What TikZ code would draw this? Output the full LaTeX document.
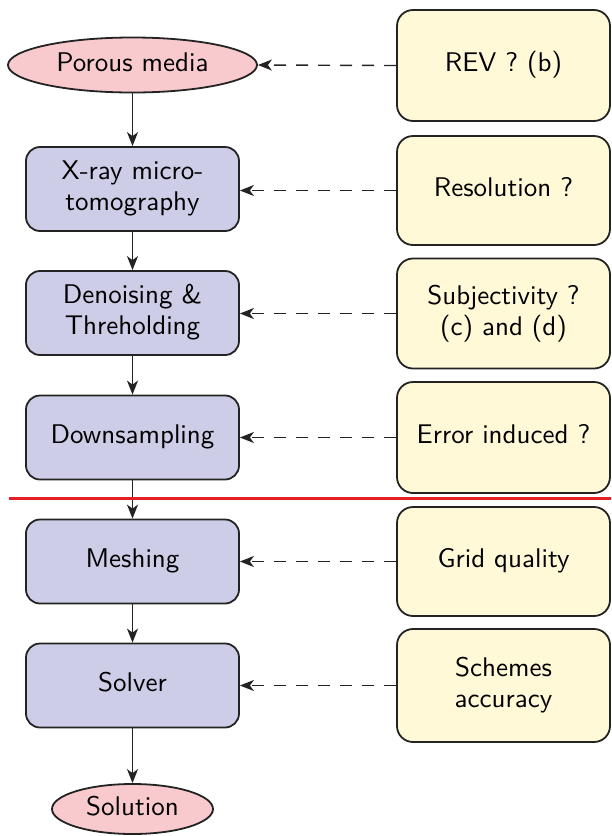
\documentclass[tikz,border=0pt]{standalone}
\usepackage{graphicx}
\usetikzlibrary{shapes.geometric,arrows.meta}
\definecolor{procblue}{RGB}{205,205,232}
\definecolor{issueyellow}{RGB}{255,249,216}
\definecolor{termpink}{RGB}{248,202,206}
\definecolor{sepred}{RGB}{230,30,40}
\definecolor{edge}{RGB}{35,35,35}
\newcommand\bigtxt[1]{\scalebox{2.7}{\fontsize{10}{11.5}\selectfont\sffamily\begin{tabular}{@{}c@{}}#1\end{tabular}}}
\begin{document}
\begin{tikzpicture}[x=1pt,y=-1pt,
  proc/.style={draw=edge, line width=1.8pt, fill=procblue, rounded corners=14pt,
    minimum width=213pt, minimum height=84pt, align=center, inner sep=0pt},
  issue/.style={draw=edge, line width=1.8pt, fill=issueyellow, rounded corners=16pt,
    minimum width=213pt, minimum height=110pt, align=center, inner sep=0pt},
  term/.style={ellipse, draw=edge, line width=1.8pt, fill=termpink, inner sep=0pt},
  flow/.style={draw=edge, line width=1.5pt, -{Stealth[length=14pt,width=11pt,inset=4pt]}},
  hint/.style={draw=edge, line width=1.4pt, dash pattern=on 12pt off 10pt,
    -{Stealth[length=14pt,width=11pt,inset=4pt]}}]
\useasboundingbox (0,0) rectangle (611,836);

\node[term, minimum width=249pt, minimum height=55pt] (pm) at (132.5,65) {\bigtxt{Porous media}};
\node[proc] (xr) at (132.5,189) {\bigtxt{X-ray micro-\\tomography}};
\node[proc] (dn) at (132.5,313) {\bigtxt{Denoising \&\\Threholding}};
\node[proc] (ds) at (132.5,437.5) {\bigtxt{Downsampling}};
\node[proc] (ms) at (132.5,561.5) {\bigtxt{Meshing}};
\node[proc] (sv) at (132.5,685.5) {\bigtxt{Solver}};
\node[term, minimum width=161pt, minimum height=50pt] (sol) at (132.5,809) {\bigtxt{Solution}};

\node[issue, minimum height=111pt] (rev) at (503.5,65.5) {\bigtxt{REV ? (b)}};
\node[issue, minimum height=109pt] (res) at (503.5,190.5) {\bigtxt{Resolution ?}};
\node[issue, minimum height=110pt] (sub) at (503.5,313.5) {\bigtxt{Subjectivity ?\\(c) and (d)}};
\node[issue, minimum height=111pt] (err) at (503.5,437.5) {\bigtxt{Error induced ?}};
\node[issue, minimum height=109pt] (grid) at (503.5,561.5) {\bigtxt{Grid quality}};
\node[issue, minimum height=113pt] (sch) at (503.5,685.5) {\bigtxt{Schemes\\accuracy}};

\draw[flow] (pm) -- (xr);
\draw[flow] (xr) -- (dn);
\draw[flow] (dn) -- (ds);
\draw[flow] (ds) -- (ms);
\draw[flow] (ms) -- (sv);
\draw[flow] (sv) -- (sol);

\draw[hint] (rev.west) -- (pm.east);
\draw[hint] (res.west) -- (xr.east |- res.west);
\draw[hint] (sub.west) -- (dn.east |- sub.west);
\draw[hint] (err.west) -- (ds.east);
\draw[hint] (grid.west) -- (ms.east);
\draw[hint] (sch.west) -- (sv.east);

\coordinate (sepL) at (9,498);
\coordinate (sepR) at (611,498);
\draw[sepred, line width=3pt] (sepL) -- (sepR);
\end{tikzpicture}
\end{document}
